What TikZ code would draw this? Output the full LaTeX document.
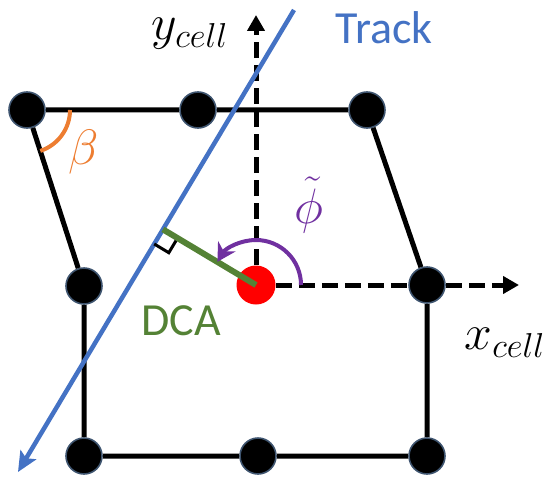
\documentclass[tikz,border=0pt]{standalone}
\usepackage{fontspec}
\newfontfamily\calibrifont{Carlito}
\usetikzlibrary{calc,arrows.meta}
\definecolor{trackblue}{HTML}{4472C4}
\definecolor{dcagreen}{HTML}{548235}
\definecolor{betaorange}{HTML}{ED7D31}
\definecolor{phipurple}{HTML}{7030A0}
\definecolor{dotrim}{HTML}{3F5570}
\begin{document}
\begin{tikzpicture}[x=0.5pt, y=0.5pt]
\tikzset{wire/.style={line width=2.5pt}, dot/.style={circle, fill=black, draw=dotrim, line width=0.8pt, minimum size=18pt, inner sep=0pt},
  axis/.style={line width=2.5pt, dash pattern=on 8pt off 3.5pt, -{Triangle[length=8pt,width=8.5pt]}},
  mathlbl/.style={font=\fontsize{25}{30}\selectfont}, greeklbl/.style={font=\fontsize{28}{32}\selectfont},
  sanslbl/.style={font=\calibrifont\fontsize{23}{27}\selectfont}}
\useasboundingbox (0,0) rectangle (549,477);
% cell corners
\node[dot] (a) at (27,367) {}; \node[dot] (b) at (198,367) {}; \node[dot] (c) at (367,367) {};
\node[dot] (d) at (84,191) {}; \node[dot] (e) at (427,192) {};
\node[dot] (f) at (84,21) {}; \node[dot] (g) at (258,21) {}; \node[dot] (h) at (427,21) {};
% hit wire position
\node[circle, fill=red, minimum size=19.5pt, inner sep=0pt] (o) at (256,192) {};
\coordinate (ytip) at (256,462); \coordinate (xtip) at (519,192);
\coordinate (trk1) at (294,467); \coordinate (trk2) at (18,5);
% cell edges
\draw[wire] (a) -- (b) -- (c) -- (e) -- (h) -- (g) -- (f) -- (d) -- (a);
% local axes
\draw[axis] (o) -- (ytip);
\draw[axis] (o) -- (e) -- (xtip);
% track and dca
\draw[trackblue, line width=2.25pt, -{Stealth[length=10pt,width=9pt,inset=2pt]}] (trk1) -- (trk2);
\coordinate (foot) at ($(trk1)!(o.center)!(trk2)$);
\coordinate (m1) at ($(foot)!8.5pt!(trk2)$); \coordinate (m2) at ($(foot)!8.5pt!(o.center)$);
\draw[line width=1.5pt] (m1) -- ($(m1)+(m2)-(foot)$) -- (m2);
\draw[dcagreen, line width=3pt] (foot) -- (o.center);
% angles
\draw[betaorange, line width=2pt] ($(a.center)+(21.5pt,0)$) arc[start angle=0, end angle=-72, radius=21.5pt];
\draw[phipurple, line width=2pt, -{Stealth[length=9pt,width=10pt]}] ($(o.center)+(22.5pt,0)$) arc[start angle=0, end angle=149, radius=22.5pt];
% labels
\node[greeklbl, text=betaorange] (betalbl) at (84,325) {$\beta$};
\node[greeklbl, text=phipurple] (philbl) at (309,272) {$\tilde{\phi}$};
\node[mathlbl] (ylbl) at (190,443) {$y_{cell}$};
\node[mathlbl] (xlbl) at (505,134) {$x_{cell}$};
\node[sanslbl, text=trackblue] (tracklbl) at (384,449) {Track};
\node[sanslbl, text=dcagreen] (dcalbl) at (181,156) {DCA};
\end{tikzpicture}
\end{document}
